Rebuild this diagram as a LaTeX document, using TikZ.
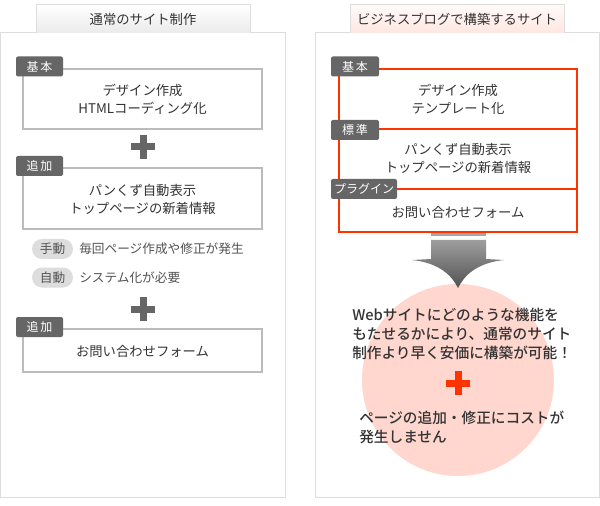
\documentclass[tikz,border=0pt]{standalone}
\usepackage{fontspec}
\setmainfont{Noto Sans CJK JP}[BoldFont={Noto Sans CJK JP Bold}]
\newfontfamily\mediumfont{Noto Sans CJK JP Medium}
\usetikzlibrary{calc, shapes.misc}

\definecolor{txt}{HTML}{333333}
\definecolor{boxline}{HTML}{BBBBBB}
\definecolor{panelline}{HTML}{DDDDDD}
\definecolor{tagfill}{HTML}{666666}
\definecolor{blogred}{HTML}{FF3300}
\definecolor{circfill}{HTML}{FFD7CE}
\definecolor{pillfill}{HTML}{DDDDDD}

\tikzset{
  panel/.style={draw=panelline, line width=0.75pt, fill=white},
  tabgray/.style={draw=panelline, line width=0.75pt, top color=white, bottom color=black!8},
  tabpink/.style={draw=panelline, line width=0.75pt, top color=red!2, bottom color=blogred!12},
  graybox/.style={draw=boxline, line width=1.5pt},
  redbox/.style={draw=blogred, line width=1.5pt},
  body/.style={text=txt, align=center, font=\fontsize{10}{13.5}\selectfont},
  tag/.style={fill=tagfill, text=white, rounded corners=1.5pt, inner sep=0pt,
    minimum height={20*0.75pt}, font=\fontsize{9}{9}\selectfont},
  pill/.style={rounded rectangle, fill=pillfill, text=txt!85, inner sep=0pt,
    minimum width={41*0.75pt}, minimum height={20*0.75pt}, font=\fontsize{9.5}{9.5}\selectfont},
  note/.style={text=txt!85, anchor=west, inner sep=0pt, font=\fontsize{9.5}{9.5}\selectfont},
  result/.style={text=txt, align=left, anchor=west, inner sep=0pt,
    font=\fontsize{11}{14}\mediumfont}
}

% a plus sign centred on a point
\newcommand{\plussign}[3]{%
  \fill[#1] ($(#2)+(-12,-#3)$) rectangle ($(#2)+(12,#3)$);
  \fill[#1] ($(#2)+(-#3,-12)$) rectangle ($(#2)+(#3,12)$);}

\begin{document}
\begin{tikzpicture}[x=0.75pt,y=-0.75pt]
\useasboundingbox (0,0) rectangle (600,506);

% ---------- left: the usual site ----------
\draw[panel] (0.5,33) rectangle (285,497);
\draw[tabgray] (36,33) -- (36,5) -- (250,5) -- (250,33);
\node[body] (lefttitle) at (143,19) {通常のサイト制作};

% basic part
\draw[graybox] (23,69) rectangle (262,129);
\node[body] (leftbase) at (142.5,99) {デザイン作成\\HTMLコーディング化};
\node[tag, minimum width={47*0.75pt}] (lefttagbase) at (39.5,66.5) {基\,本};

\coordinate (plusa) at (143,147);
\plussign{tagfill}{plusa}{3.5}

% extra part
\draw[graybox] (23,168) rectangle (262,229);
\node[body] (leftextra) at (142.5,199) {パンくず自動表示\\トップページの新着情報};
\node[tag, minimum width={47*0.75pt}] (lefttagextra) at (39.5,166) {追\,加};

% manual / automatic notes
\node[pill] (manual) at (52.5,249) {手動};
\node[note] (manualtext) at (79,249) {毎回ページ作成や修正が発生};
\node[pill] (auto) at (52.5,277.5) {自動};
\node[note] (autotext) at (79,277.5) {システム化が必要};

\coordinate (plusb) at (143,309);
\plussign{tagfill}{plusb}{3.5}

% form
\draw[graybox] (23,329) rectangle (262,372);
\node[body] (leftform) at (142.5,351) {お問い合わせフォーム};
\node[tag, minimum width={47*0.75pt}] (lefttagform) at (39.5,327) {追\,加};

% ---------- right: business blog ----------
\draw[panel] (315,33) rectangle (599,497);
\draw[tabpink] (350,33) -- (350,5) -- (564,5) -- (564,33);
\node[body] (righttitle) at (457,19) {ビジネスブログで構築するサイト};

% three stacked parts
\draw[redbox] (339,69) rectangle (577,232);
\draw[redbox] (339,129) -- (577,129);
\draw[redbox] (339,189) -- (577,189);
\node[body] (rightbase) at (458,99) {デザイン作成\\テンプレート化};
\node[body] (rightstd) at (458,158) {パンくず自動表示\\トップページの新着情報};
\node[body] (rightplug) at (458,212) {お問い合わせフォーム};
\node[tag, minimum width={48*0.75pt}] (righttagbase) at (355,66.5) {基\,本};
\node[tag, minimum width={48*0.75pt}] (righttagstd) at (355,130) {標\,準};
\node[tag, minimum width={66*0.75pt}] (righttagplug) at (364,189) {プラグイン};

% circle with the result
\fill[circfill] (458,380) circle (96);

% arrow down into the circle
\fill[black!35] (431,233) rectangle (486,236);
\shade[top color=black!38, bottom color=black!68]
  (431,240) -- (431,259) -- (412,260)
  .. controls (440,263) and (452,276) .. (458,288)
  .. controls (464,276) and (476,263) .. (504,260)
  -- (486,259) -- (486,240) -- cycle;

\node[result] (resulta) at (352,334) {Webサイトにどのような機能を\\
  もたせるかにより、通常のサイト\\
  制作より早く安価に構築が可能！};

\coordinate (plusc) at (458,383);
\plussign{blogred}{plusc}{3.5}

\node[result] (resultb) at (359,427.5) {ページの追加・修正にコストが\\
  発生しません};
\end{tikzpicture}
\end{document}
